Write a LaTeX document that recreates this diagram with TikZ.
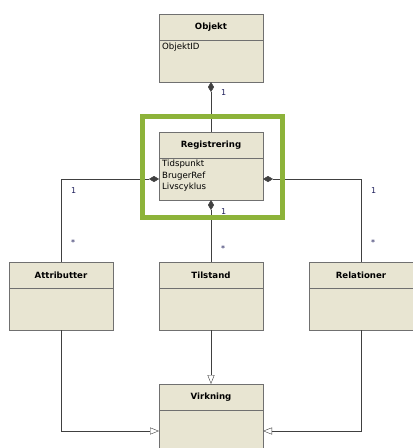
\documentclass[tikz,border=0pt]{standalone}
\usepackage{fontspec}
\setmainfont{DejaVu Sans}
\usetikzlibrary{positioning, fit, arrows.meta}
\definecolor{klasse}{RGB}{232,229,210}
\definecolor{ramme}{RGB}{112,112,112}
\definecolor{streg}{RGB}{64,64,64}
\definecolor{fremhaev}{RGB}{141,179,58}
\definecolor{multtekst}{RGB}{30,30,90}

\begin{document}
\begin{tikzpicture}[
    x=1pt, y=-1pt,
    node distance = 0pt,
    head/.style = {draw=ramme, fill=klasse, minimum width=104pt, minimum height=26pt,
                   inner sep=0pt, outer sep=0pt, font=\fontsize{8.6}{10}\selectfont\bfseries},
    body/.style = {draw=ramme, fill=klasse, minimum width=104pt, minimum height=42pt,
                   inner sep=0pt, outer sep=0pt},
    felt/.style = {anchor=north west, align=left, inner sep=0pt,
                   font=\fontsize{8.6}{11.5}\selectfont},
    comp/.style = {draw=streg, {Diamond[length=10pt, width=6pt]}-},
    gen/.style  = {draw=streg, -{Triangle[open, length=9pt, width=7pt, fill=white]}},
    mult/.style = {text=multtekst, inner sep=1pt, font=\fontsize{8}{9}\selectfont}
]
\useasboundingbox (0,0) rectangle (413,448);

% klasser
\node (obj)    at (211,14) [head, anchor=north] {Objekt};
\node (obj-b)  [body, below=of obj]   {};
\node (obj-f)  [felt, below right=3pt and 3pt of obj-b.north west] {ObjektID};
%
\node (reg)    [head, below=50pt of obj-b] {Registrering};
\node (reg-b)  [body, below=of reg]   {};
\node (reg-f)  [felt, below right=2pt and 3pt of reg-b.north west] {Tidspunkt\\BrugerRef\\Livscyklus};
%
\node (til)    [head, below=62pt of reg-b] {Tilstand};
\node (til-b)  [body, below=of til]   {};
\node (attr)   [head, left=46pt of til]    {Attributter};
\node (attr-b) [body, below=of attr]  {};
\node (rel)    [head, right=46pt of til]   {Relationer};
\node (rel-b)  [body, below=of rel]   {};
%
\node (vir)    [head, below=54pt of til-b] {Virkning};
\node (vir-b)  [body, below=of vir]   {};

% komposition
\draw[comp] (obj-b.south) -- node[mult, pos=0.22, right=9pt] {1}
                              node[mult, pos=0.72, right=9pt] {*} (reg.north);
\draw[comp] (reg-b.west)  -| node[mult, pos=0.57, right=9pt] {1}
                              node[mult, pos=0.88, right=9pt] {*} (attr.north);
\draw[comp] (reg-b.east)  -| node[mult, pos=0.57, right=9pt] {1}
                              node[mult, pos=0.88, right=9pt] {*} (rel.north);
\draw[comp] (reg-b.south) -- node[mult, pos=0.18, right=9pt] {1}
                              node[mult, pos=0.79, right=9pt] {*} (til.north);

% generalisering
\draw[gen] (til-b.south)  -- (vir.north);
\draw[gen] (attr-b.south) |- (vir-b.west);
\draw[gen] (rel-b.south)  |- (vir-b.east);

% markering
\node (marker) [draw=fremhaev, line width=5pt, fit=(reg)(reg-b), inner xsep=18pt,
                inner ysep=16.5pt, xshift=1.5pt, yshift=-1pt] {};

\end{tikzpicture}
\end{document}
